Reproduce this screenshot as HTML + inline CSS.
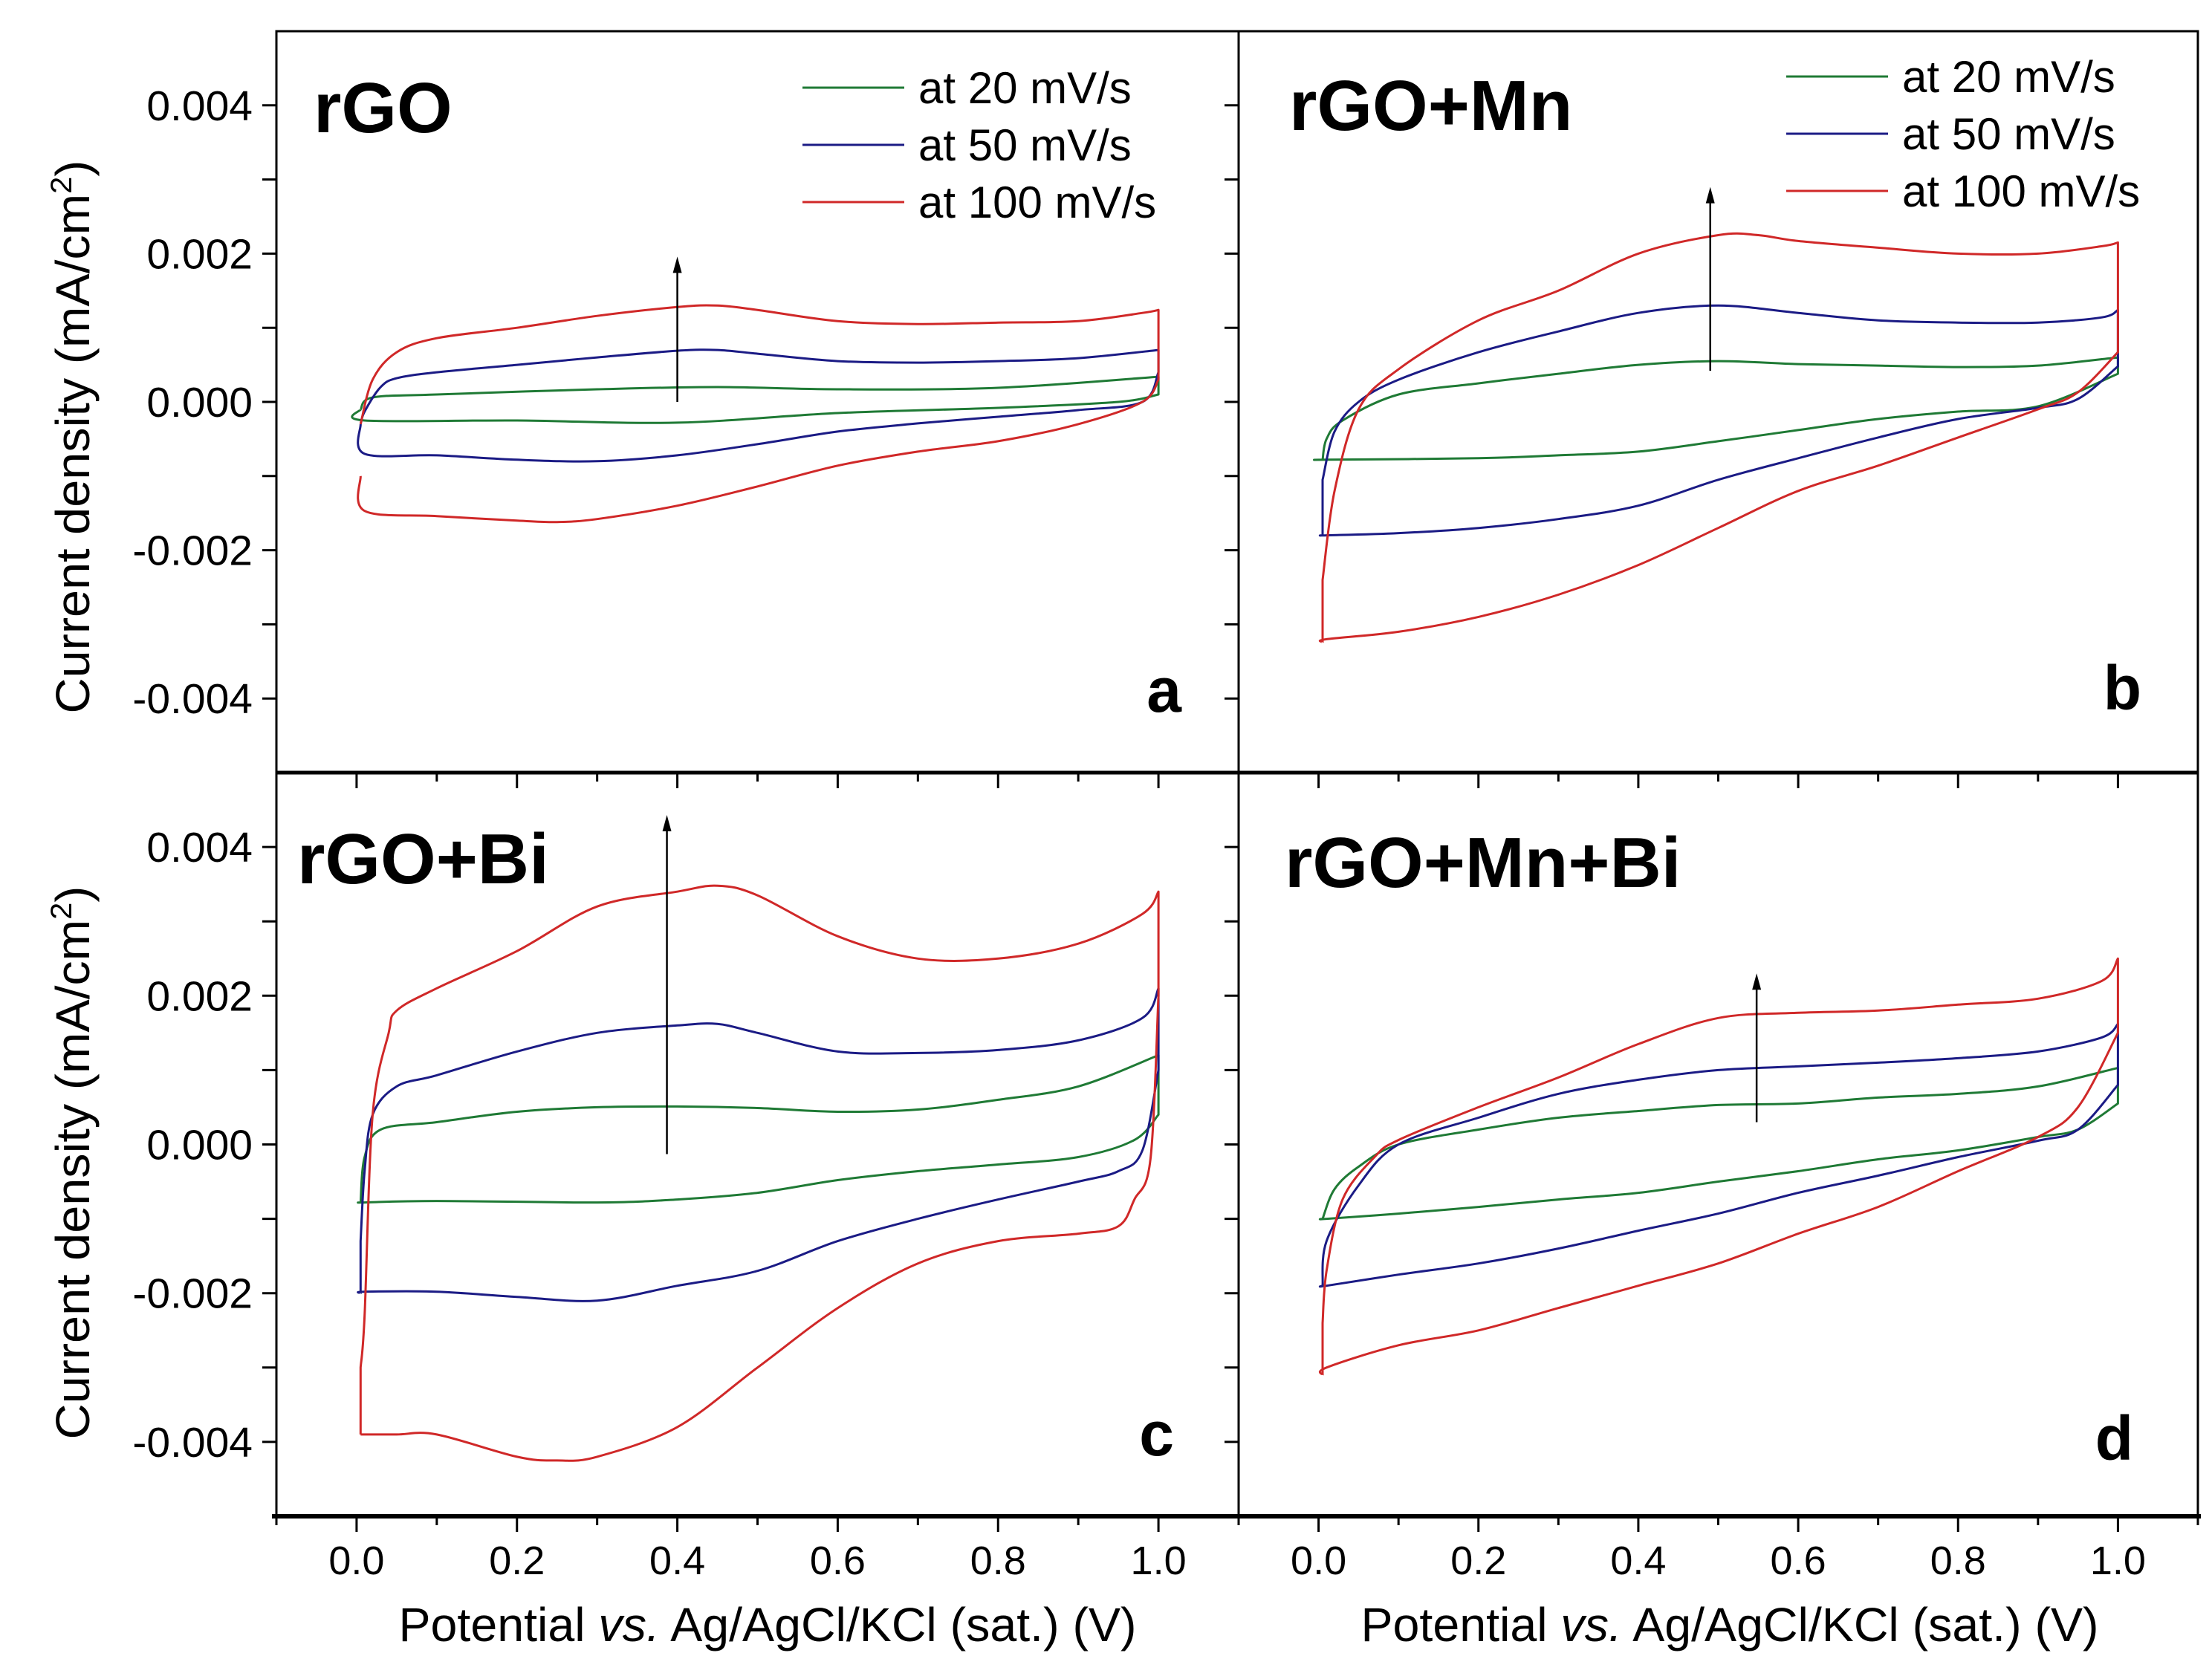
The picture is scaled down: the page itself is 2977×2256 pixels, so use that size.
<!DOCTYPE html>
<html><head><meta charset="utf-8"><style>
html,body{margin:0;padding:0;background:#fff;}
svg{display:block;font-family:"Liberation Sans",Arial,sans-serif;}
</style></head><body>
<svg id="fig" width="2977" height="2256" viewBox="0 0 2977 2256" xmlns="http://www.w3.org/2000/svg">
<rect width="2977" height="2256" fill="#fff"/>
<g id="plots"></g>
<g id="frame"></g>
</svg>
<script>
// ---- tick data ----
const yTickValues = [-4, -2, 0, 2, 4];
const yTickLabels = ["-0.004", "-0.002", "0.000", "0.002", "0.004"];
const yMinorValues = [-5, -3, -1, 1, 3, 5];
const xTickValues = [0, 0.2, 0.4, 0.6, 0.8, 1.0];
const xTickLabels = ["0.0", "0.2", "0.4", "0.6", "0.8", "1.0"];
const xMinorValues = [-0.1, 0.1, 0.3, 0.5, 0.7, 0.9, 1.1];
const seriesNames = ["at 20 mV/s", "at 50 mV/s", "at 100 mV/s"];
const seriesColors = ["#1f7a35", "#1b1b85", "#d02828"];

// ---- series data (current density in units of 1e-3 mA/cm2) ----
// Panel a: rGO
const aGreenX = [0.005,0.02,0.1,0.3,0.45,0.6,0.8,1.0,1.0,0.95,0.8,0.6,0.4,0.2,0.01,0.005];
const aGreenY = [-0.1,0.06,0.1,0.17,0.2,0.17,0.19,0.34,0.1,0,-0.08,-0.15,-0.28,-0.25,-0.25,-0.1];
const aBlueX = [0.005,0.01,0.03,0.05,0.1,0.2,0.3,0.4,0.45,0.5,0.6,0.7,0.8,0.9,1.0,1.0,0.98,0.9,0.8,0.7,0.6,0.5,0.4,0.3,0.2,0.1,0.01,0.005];
const aBlueY = [-0.3,-0.13,0.2,0.32,0.4,0.5,0.6,0.69,0.7,0.65,0.55,0.53,0.55,0.59,0.7,0.4,0,-0.11,-0.2,-0.29,-0.4,-0.57,-0.72,-0.8,-0.78,-0.72,-0.7,-0.3];
const aRedX = [0.005,0.02,0.05,0.1,0.2,0.3,0.4,0.45,0.5,0.6,0.7,0.8,0.9,0.98,1.0,1.0,0.98,0.9,0.8,0.7,0.6,0.5,0.4,0.3,0.25,0.2,0.1,0.01,0.005];
const aRedY = [-0.3,0.3,0.67,0.86,1.0,1.16,1.28,1.3,1.24,1.09,1.05,1.07,1.09,1.2,1.24,0.3,0,-0.3,-0.53,-0.67,-0.86,-1.14,-1.4,-1.58,-1.62,-1.6,-1.54,-1.47,-1.0];
// Panel b: rGO+Mn
const bGreenX = [0.005,0.01,0.03,0.1,0.2,0.3,0.4,0.5,0.6,0.7,0.8,0.9,1.0,1.0,0.9,0.8,0.7,0.6,0.5,0.4,0.3,0.2,0.01,0.005];
const bGreenY = [-0.78,-0.5,-0.25,0.1,0.25,0.38,0.5,0.55,0.51,0.49,0.47,0.49,0.6,0.38,-0.06,-0.13,-0.23,-0.38,-0.53,-0.67,-0.72,-0.76,-0.78,-0.78];
const bBlueX = [0.005,0.005,0.02,0.05,0.1,0.2,0.3,0.4,0.5,0.6,0.7,0.8,0.9,0.98,1.0,1.0,0.95,0.9,0.8,0.7,0.6,0.5,0.4,0.3,0.2,0.1,0.01,0.005];
const bBlueY = [-1.8,-1.05,-0.4,0,0.3,0.67,0.95,1.2,1.3,1.2,1.1,1.07,1.07,1.14,1.24,0.48,0.04,-0.08,-0.23,-0.48,-0.76,-1.05,-1.4,-1.58,-1.7,-1.77,-1.8,-1.8];
const bRedX = [0.005,0.005,0.02,0.05,0.1,0.2,0.3,0.4,0.5,0.55,0.6,0.7,0.8,0.9,0.98,1.0,1.0,0.95,0.9,0.8,0.7,0.6,0.5,0.4,0.3,0.2,0.1,0.01,0.005];
const bRedY = [-3.24,-2.4,-1.2,-0.1,0.44,1.1,1.5,2.0,2.25,2.25,2.17,2.08,2.0,2.0,2.1,2.15,0.67,0.13,-0.1,-0.48,-0.86,-1.2,-1.7,-2.2,-2.6,-2.9,-3.1,-3.2,-3.24];
// Panel c: rGO+Bi
const cGreenX = [0.005,0.01,0.03,0.1,0.2,0.3,0.4,0.5,0.6,0.7,0.8,0.9,1.0,1.0,0.97,0.9,0.8,0.7,0.6,0.5,0.4,0.3,0.1,0.01,0.005];
const cGreenY = [-0.78,-0.17,0.2,0.3,0.44,0.5,0.51,0.49,0.44,0.47,0.6,0.78,1.2,0.4,0.06,-0.17,-0.27,-0.36,-0.48,-0.65,-0.74,-0.78,-0.76,-0.78,-0.78];
const cBlueX = [0.005,0.005,0.01,0.02,0.05,0.1,0.2,0.3,0.4,0.45,0.5,0.6,0.7,0.8,0.9,0.98,1.0,1.0,0.98,0.95,0.9,0.8,0.7,0.6,0.5,0.4,0.3,0.2,0.1,0.01,0.005];
const cBlueY = [-2.0,-1.3,-0.36,0.4,0.78,0.93,1.25,1.5,1.6,1.62,1.5,1.25,1.23,1.27,1.4,1.7,2.1,1.0,-0.08,-0.36,-0.5,-0.74,-1.0,-1.3,-1.7,-1.9,-2.1,-2.05,-1.98,-1.98,-2.0];
const cRedX = [0.005,0.005,0.01,0.02,0.04,0.05,0.1,0.2,0.3,0.4,0.45,0.5,0.6,0.7,0.8,0.9,0.98,1.0,1.0,0.99,0.97,0.95,0.9,0.8,0.7,0.6,0.5,0.4,0.3,0.25,0.2,0.1,0.05,0.005];
const cRedY = [-3.9,-3.0,-2.3,0.4,1.5,1.8,2.1,2.6,3.2,3.4,3.48,3.35,2.8,2.5,2.5,2.7,3.1,3.4,2.0,-0.2,-0.74,-1.1,-1.2,-1.3,-1.6,-2.2,-3.0,-3.8,-4.2,-4.25,-4.2,-3.9,-3.9,-3.9];
// Panel d: rGO+Mn+Bi
const dGreenX = [0.005,0.02,0.05,0.1,0.2,0.3,0.4,0.5,0.6,0.7,0.8,0.9,1.0,1.0,0.95,0.9,0.8,0.7,0.6,0.5,0.4,0.3,0.2,0.1,0.01,0.005];
const dGreenY = [-1.0,-0.6,-0.3,0,0.2,0.36,0.45,0.53,0.55,0.63,0.68,0.78,1.03,0.55,0.2,0.1,-0.08,-0.2,-0.36,-0.5,-0.65,-0.74,-0.84,-0.93,-1.0,-1.0];
const dBlueX = [0.005,0.01,0.05,0.1,0.2,0.3,0.4,0.5,0.6,0.7,0.8,0.9,0.98,1.0,1.0,0.95,0.9,0.8,0.7,0.6,0.5,0.4,0.3,0.2,0.1,0.01,0.005];
const dBlueY = [-1.9,-1.3,-0.55,0,0.36,0.68,0.87,1.0,1.05,1.1,1.16,1.25,1.44,1.62,0.8,0.2,0.05,-0.17,-0.42,-0.65,-0.93,-1.16,-1.4,-1.6,-1.75,-1.9,-1.9];
const dRedX = [0.005,0.005,0.01,0.03,0.07,0.1,0.2,0.3,0.4,0.5,0.6,0.7,0.8,0.9,0.98,1.0,1.0,0.95,0.9,0.8,0.7,0.6,0.5,0.4,0.3,0.2,0.1,0.01,0.005];
const dRedY = [-3.1,-2.4,-1.7,-0.74,-0.17,0.06,0.5,0.9,1.35,1.7,1.77,1.8,1.88,1.96,2.2,2.5,1.5,0.5,0.1,-0.36,-0.84,-1.2,-1.6,-1.9,-2.2,-2.5,-2.7,-3.0,-3.1];
// arrows [x, yStart, yEnd]
const arrowA = [0.4, 0.0, 1.96];
const arrowB = [0.49, 0.42, 2.9];
const arrowC = [0.387, -0.13, 4.43];
const arrowD = [0.548, 0.3, 2.3];

const NS = "http://www.w3.org/2000/svg";
function mk(tag, attrs, parent){const e=document.createElementNS(NS,tag);for(const k in attrs)e.setAttribute(k,attrs[k]);parent.appendChild(e);return e;}

// Smooth path: split into runs at direction reversals / vertical jumps, Catmull-Rom within runs
function smoothPath(pts){
  const runs = [];
  let cur = [pts[0]];
  for(let i=1;i<pts.length;i++){
    const prev = pts[i-1], p = pts[i];
    const dxp = p[0]-prev[0];
    let brk = Math.abs(dxp) < 0.5;
    if(!brk && cur.length>1){
      const dpp = prev[0]-cur[cur.length-2][0];
      if(dpp*dxp < 0) brk = true;
    }
    if(brk){ runs.push(cur); cur=[prev,p]; if(Math.abs(dxp)<0.5){runs.push(cur); cur=[p];} }
    else cur.push(p);
  }
  if(cur.length>1) runs.push(cur);
  let d = "M"+pts[0][0].toFixed(1)+","+pts[0][1].toFixed(1);
  runs.forEach(r=>{
    if(r.length<2) return;
    for(let i=0;i<r.length-1;i++){
      const p0=r[Math.max(0,i-1)], p1=r[i], p2=r[i+1], p3=r[Math.min(r.length-1,i+2)];
      const c1=[p1[0]+(p2[0]-p0[0])/6, p1[1]+(p2[1]-p0[1])/6];
      const c2=[p2[0]-(p3[0]-p1[0])/6, p2[1]-(p3[1]-p1[1])/6];
      d += "C"+c1[0].toFixed(1)+","+c1[1].toFixed(1)+" "+c2[0].toFixed(1)+","+c2[1].toFixed(1)+" "+p2[0].toFixed(1)+","+p2[1].toFixed(1);
    }
  });
  return d;
}

const panels = [
 {id:"a", name:"rGO", x0:372, x1:1667, y0:42, y1:1040, series:[[aGreenX,aGreenY],[aBlueX,aBlueY],[aRedX,aRedY]], arrow:arrowA, title:[422,178], letter:[1590,958], legend:[1080,118]},
 {id:"b", name:"rGO+Mn", x0:1667, x1:2958, y0:42, y1:1040, series:[[bGreenX,bGreenY],[bBlueX,bBlueY],[bRedX,bRedY]], arrow:arrowB, title:[1735,175], letter:[2882,955], legend:[2404,103]},
 {id:"c", name:"rGO+Bi", x0:372, x1:1667, y0:1040, y1:2041, series:[[cGreenX,cGreenY],[cBlueX,cBlueY],[cRedX,cRedY]], arrow:arrowC, title:[400,1189], letter:[1580,1959], legend:null},
 {id:"d", name:"rGO+Mn+Bi", x0:1667, x1:2958, y0:1040, y1:2041, series:[[dGreenX,dGreenY],[dBlueX,dBlueY],[dRedX,dRedY]], arrow:arrowD, title:[1729,1194], letter:[2871,1965], legend:null}
];
const plots = document.getElementById("plots");
const frame = document.getElementById("frame");

panels.forEach(p=>{
  const xs = v => p.x0 + (v + 0.1) / 1.2 * (p.x1 - p.x0);
  const ys = v => p.y1 - (v + 5) / 10 * (p.y1 - p.y0);
  const g = mk("g", {}, plots);
  
  
  p.series.forEach((s, i)=>{
    const pts = s[0].map((xv,k)=>[xs(xv), ys(s[1][k])]);
    const path = mk("path", {d:smoothPath(pts), fill:"none", stroke:seriesColors[i], "stroke-width":3, "stroke-linejoin":"round"}, g);
    
    
  });
  // arrow
  const ax = xs(p.arrow[0]), ay0 = ys(p.arrow[1]), ay1 = ys(p.arrow[2]);
  const ag = mk("g", {}, g);
  
  
  mk("line", {x1:ax, y1:ay0, x2:ax, y2:ay1+14, stroke:"#000", "stroke-width":2.5}, ag);
  mk("path", {d:`M${ax-6},${ay1+22}L${ax},${ay1}L${ax+6},${ay1+22}Z`, fill:"#000"}, ag);
  // titles
  const t = mk("text", {x:p.title[0], y:p.title[1], "font-size":96, "font-weight":"bold"}, g);
  t.textContent = p.name;
  
  
  const l = mk("text", {x:p.letter[0], y:p.letter[1], "font-size":84, "font-weight":"bold", "text-anchor":"end"}, g);
  l.textContent = p.id;
  
  
  // legend
  if(p.legend){
    const lg = mk("g", {}, g);
    
    
    seriesNames.forEach((n,i)=>{
      const cy = p.legend[1] + i*77;
      const e = mk("g", {}, lg);
      
      
      mk("line", {x1:p.legend[0], y1:cy, x2:p.legend[0]+137, y2:cy, stroke:seriesColors[i], "stroke-width":3}, e);
      const tx = mk("text", {x:p.legend[0]+156, y:cy+21, "font-size":60}, e);
      tx.textContent = n;
    });
  }
  // y ticks
  yTickValues.forEach((v,i)=>{
    mk("line", {x1:p.x0-19, y1:ys(v), x2:p.x0, y2:ys(v), stroke:"#000", "stroke-width":3}, frame);
    if(p.x0 < 1000){
      const tl = mk("text", {x:340, y:ys(v)+20, "font-size":57, "text-anchor":"end"}, frame);
      tl.textContent = yTickLabels[i];
      
      
    }
  });
  yMinorValues.forEach(v=>{
    if(v <= -5 || v >= 5) return;
    mk("line", {x1:p.x0-19, y1:ys(v), x2:p.x0, y2:ys(v), stroke:"#000", "stroke-width":3}, frame);
  });
  // x ticks
  xTickValues.forEach((v,i)=>{
    mk("line", {x1:xs(v), y1:p.y1, x2:xs(v), y2:p.y1+21, stroke:"#000", "stroke-width":3}, frame);
    if(p.y1 > 2000){
      const tl = mk("text", {x:xs(v), y:2119, "font-size":54, "text-anchor":"middle"}, frame);
      tl.textContent = xTickLabels[i];
      
      
    }
  });
  xMinorValues.forEach(v=>{
    mk("line", {x1:xs(v), y1:p.y1, x2:xs(v), y2:p.y1+12, stroke:"#000", "stroke-width":3}, frame);
  });
});

// frame lines
const fr = mk("g", {}, frame);


mk("rect", {x:372, y:42, width:2586, height:1999, fill:"none", stroke:"#000", "stroke-width":3}, fr);
mk("line", {x1:1667, y1:42, x2:1667, y2:2041, stroke:"#000", "stroke-width":3}, fr);
mk("line", {x1:372, y1:1040, x2:2958, y2:1040, stroke:"#000", "stroke-width":5}, fr);
mk("line", {x1:366, y1:2041, x2:2962, y2:2041, stroke:"#000", "stroke-width":6}, fr);

// axis titles
[588, 1565].forEach((cy,i)=>{
  const t = mk("text", {x:0, y:0, "font-size":64, "text-anchor":"middle", transform:`translate(120,${cy}) rotate(-90)`, textLength:745, lengthAdjust:"spacingAndGlyphs"}, frame);
  t.innerHTML = 'Current density (mA/cm<tspan dy="-24" font-size="40">2</tspan><tspan dy="24">)</tspan>';
  
  
});
[1033, 2328].forEach((cx,i)=>{
  const t = mk("text", {x:cx, y:2209, "font-size":64, "text-anchor":"middle", textLength:993, lengthAdjust:"spacingAndGlyphs"}, frame);
  t.innerHTML = 'Potential <tspan font-style="italic">vs.</tspan> Ag/AgCl/KCl (sat.) (V)';
  
  
});
</script>
</body></html>
